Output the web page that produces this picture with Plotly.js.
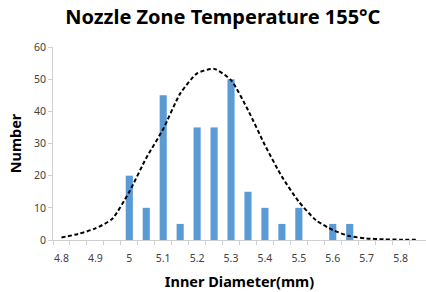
<!DOCTYPE html>
<html>
<head>
<meta charset="utf-8">
<script src="https://cdn.plot.ly/plotly-3.0.1.min.js"></script>
<style>html,body{margin:0;padding:0;background:#fff;}#chart{width:426px;height:292px;}</style>
</head>
<body>
<div id="chart"></div>
<script>
var diameters = [4.8,4.85,4.9,4.95,5.0,5.05,5.1,5.15,5.2,5.25,5.3,5.35,5.4,5.45,5.5,5.55,5.6,5.65,5.7,5.75,5.8,5.85];
var counts    = [0,0,0,0,20,10,45,5,35,35,50,15,10,5,10,0,5,5,0,0,0,0];
var fitCurve  = [0.8,1.9,3.6,6.6,15,25.5,34.5,45.5,51.8,53.2,49.7,40.4,29.5,19.7,11.9,6.2,3.1,1.2,0.5,0.2,0.1,0.05];
var tickValues = [4.8,4.9,5.0,5.1,5.2,5.3,5.4,5.5,5.6,5.7,5.8];
var tickLabels = ["4.8","4.9","5","5.1","5.2","5.3","5.4","5.5","5.6","5.7","5.8"];

var font = "'Noto Sans', 'Open Sans', sans-serif";
var traces = [
  {type:'bar', x:diameters, y:counts, width:0.021, marker:{color:'#5B9BD5'}, hoverinfo:'x+y'},
  {type:'scatter', mode:'lines', x:diameters, y:fitCurve, line:{color:'#000', width:2, dash:'4px,2.5px', shape:'spline', smoothing:0.6}}
];
var layout = {
  width:426, height:292,
  margin:{l:53, r:0, t:47, b:52},
  paper_bgcolor:'#fff', plot_bgcolor:'#fff',
  showlegend:false,
  title:{text:'<b>Nozzle Zone Temperature 155°C</b>', font:{family:font, size:20, color:'#000'}, x:0.523, xanchor:'center', xref:'container', yref:'container', y:0.943, yanchor:'middle'},
  xaxis:{
    range:[4.775,5.875], tickmode:'array', tickvals:tickValues, ticktext:tickLabels,
    ticks:'outside', ticklen:8, tickcolor:'rgba(0,0,0,0)', showgrid:false, zeroline:false, showline:true, linecolor:'#d0d0d0', linewidth:1,
    tickfont:{family:font, size:10.5, color:'#404040'},
    minor:{tick0:4.775, dtick:0.05, ticks:'outside', ticklen:4, tickcolor:'#d0d0d0', showgrid:false},
    title:{text:'<b>Inner Diameter(mm)</b>', font:{family:font, size:14.5, color:'#000'}, standoff:13}
  },
  yaxis:{
    range:[0,60], dtick:10, ticks:'outside', ticklen:4, tickcolor:'#d0d0d0',
    showgrid:false, zeroline:false, showline:true, linecolor:'#d0d0d0', linewidth:1,
    tickfont:{family:font, size:10.5, color:'#404040'},
    title:{text:'<b>Number</b>', font:{family:font, size:14.5, color:'#000'}, standoff:8}
  }
};
Plotly.newPlot('chart', traces, layout, {displayModeBar:false, staticPlot:true});
</script>
</body>
</html>
